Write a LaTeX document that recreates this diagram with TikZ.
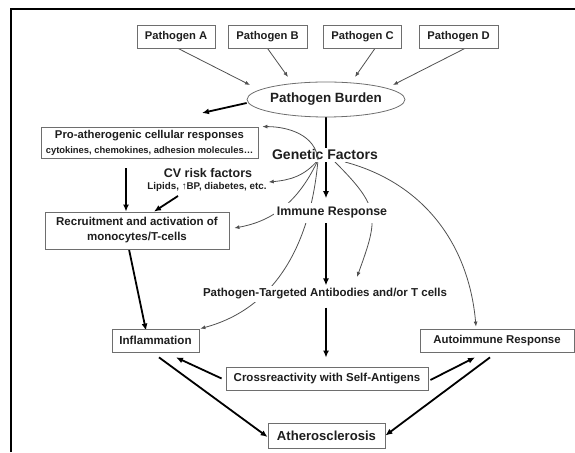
\documentclass[tikz,border=0pt]{standalone}
\usepackage{fontspec}
\setmainfont{Liberation Sans}
\usetikzlibrary{arrows.meta,shapes.geometric,backgrounds}

\definecolor{boxline}{HTML}{6E6E6E}
\definecolor{thinline}{HTML}{505050}
\definecolor{ink}{HTML}{1E1E1E}

\newcommand{\fsz}[1]{\fontsize{#1}{#1}\selectfont\bfseries}

\begin{document}
\begin{tikzpicture}[x=1pt,y=1pt,text=ink]

        \useasboundingbox (0,0) rectangle (575,452);
        \draw[line width=1.6pt] (11,0) -- (11,443) -- (575,443);

        % boxes
        \begin{scope}[every node/.style={draw=boxline,line width=.8pt,fill=white,inner sep=0pt,minimum height=23pt}]
          \node[minimum width=78pt,font=\fsz{11.2}] (pa) at (176,415.5) {Pathogen A};
          \node[minimum width=79pt,font=\fsz{11.2}] (pb) at (267.5,415.5) {Pathogen B};
          \node[minimum width=78pt,font=\fsz{11.2}] (pc) at (362.5,415.5) {Pathogen C};
          \node[minimum width=79pt,font=\fsz{11.2}] (pd) at (458.5,415.5) {Pathogen D};
          \node[minimum width=217pt,minimum height=31pt,align=center,font=\fsz{11.3}] (pro) at (149.5,309.5)
            {Pro-atherogenic cellular responses\\[3.5pt]{\fsz{9.4}cytokines, chemokines, adhesion molecules\dots}};
          \node[minimum width=184pt,minimum height=37pt,align=center,font=\fontsize{11.5}{15}\selectfont\bfseries] (rec) at (137,221.5)
            {Recruitment and activation of\\monocytes/T-cells};
          \node[minimum width=87pt,font=\fsz{11.6}] (infl) at (155.5,111.5) {Inflammation};
          \node[minimum width=154pt,font=\fsz{11.4}] (auto) at (497,111.5) {Autoimmune Response};
          \node[minimum width=202pt,font=\fsz{11.5}] (cross) at (327,73.5) {Crossreactivity with Self-Antigens};
          \node[minimum width=117pt,minimum height=25pt,font=\fsz{13.1}] (ath) at (326.5,16.5) {Atherosclerosis};
        \end{scope}

        \node[ellipse,draw=boxline,line width=.8pt,inner sep=0pt,minimum width=148pt,minimum height=35pt,font=\fsz{13.4}]
          (burden) at (326,352.5) {Pathogen Burden};

        % free labels
        \begin{scope}[every node/.style={inner sep=0pt}]
          \node[font=\fsz{14},fill=white,inner ysep=1.5pt] (gen) at (325,297) {Genetic Factors};
          \node[font=\fsz{12.5}] (cv) at (208,279) {CV risk factors};
          \node[font=\fsz{9.8}] (cvsub) at (207,265) {Lipids, ↑BP, diabetes, etc.};
          \node[font=\fsz{12.4},fill=white,inner xsep=3pt,inner ysep=4pt] (imm) at (332,239) {Immune Response};
          \node[font=\fsz{11.5},fill=white,inner sep=3pt] (pt) at (325,158) {Pathogen-Targeted Antibodies and/or T cells};
        \end{scope}

        \coordinate (hub) at (318,292);
        \coordinate (hubr) at (335,290);
        \coordinate (hubrr) at (345,290);
        \coordinate (burdenout) at (202,339);

        % thin connectors
        \begin{scope}[on background layer,
            every edge/.style={draw,thinline,line width=.8pt,-{Latex[length=5pt,width=4pt]}}]
          \path ([xshift=2pt]pa.south) edge ([shift={(-76,14.5)}]burden.center);
          \path (pb.south) edge ([shift={(-38,22.5)}]burden.center);
          \path ([xshift=12.5pt]pc.south) edge ([shift={(29,22.5)}]burden.center);
          \path ([xshift=6.5pt]pd.south) edge ([shift={(67,14.5)}]burden.center);

          \path (hub) edge[out=230,in=5] ([shift={(2,5)}]cvsub.east);
          \path (hub) edge[out=245,in=10] ([shift={(5,2.5)}]rec.east);
          \path (hub) edge[out=265,in=15] ([xshift=1pt]infl.north east);
          \path (hubr) edge[out=-45,in=70,looseness=1.4] ([shift={(32,17)}]pt.center);
          \path (hubrr) edge[out=-15,in=95] ([shift={(-21,2)}]auto.north);
        \end{scope}
        % this one runs over the label
        \path[draw,thinline,line width=.8pt,-{Latex[length=5pt,width=4pt]}]
          (hub) to[out=95,in=0] ([xshift=4pt]pro.north east);

        % thick connectors
        \begin{scope}[on background layer,
            every edge/.style={draw,black,line width=1.8pt,-{Latex[length=7pt,width=6pt]}}]
          \path ([yshift=-3.5pt]burden.west) edge (burdenout);
          \path (burden.south) edge[shorten >=5pt] (burden.south |- imm.north);
          \path (imm.south -| burden.south) edge (burden.south |- pt.north);
          \path (pt.south -| burden.south) edge[shorten <=5pt,shorten >=9pt] (burden.south |- cross.north);
          \path ([xshift=-23.5pt]pro.south) edge[shorten <=10pt] ([xshift=-11pt]rec.north);
          \path ([shift={(-29,-9)}]cvsub.center) edge ([xshift=17pt]rec.north);
          \path ([xshift=-8pt]rec.south) edge ([shift={(-9.5,-2)}]infl.north);
          \path ([xshift=-4pt]cross.west) edge ([shift={(20.5,-5)}]infl.south);
          \path ([shift={(2,-1.5)}]cross.east) edge ([shift={(-22,-5)}]auto.south);
          \path ([shift={(3.5,-5)}]infl.south) edge ([yshift=-1.5pt]ath.west);
          \path ([shift={(-7,-5)}]auto.south) edge (ath.east);
        \end{scope}

      \end{tikzpicture}
\end{document}
